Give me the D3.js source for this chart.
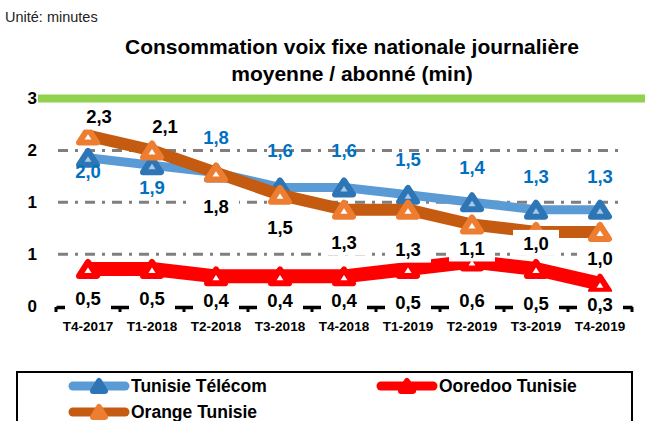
<!DOCTYPE html>
<html>
<head>
<meta charset="utf-8">
<script src="https://cdn.jsdelivr.net/npm/d3@7"></script>
<style>
  html, body { margin: 0; padding: 0; background: #fff; }
  svg { display: block; font-family: "Liberation Sans", Arial, sans-serif; }
</style>
</head>
<body>
<svg id="chart" width="645" height="421"></svg>
<script>
// data
const quarters = ["T4-2017", "T1-2018", "T2-2018", "T3-2018", "T4-2018", "T1-2019", "T2-2019", "T3-2019", "T4-2019"];
const tunisieTelecom = [2.0, 1.9, 1.8, 1.6, 1.6, 1.5, 1.4, 1.3, 1.3];
const orangeTunisie  = [2.3, 2.1, 1.8, 1.5, 1.3, 1.3, 1.1, 1.0, 1.0];
const ooredooTunisie = [0.5, 0.5, 0.4, 0.4, 0.4, 0.5, 0.6, 0.5, 0.3];
const yTicks = [0, 0.7, 1.4, 2.1, 2.8];
const yMax = 2.8;

// label placement (pixel offsets from the point)
const ttLabelDy  = [14, 22, -35, -37, -37, -35, -35, -33, -33];
const orLabelDy  = [-19, -24, 34, 33, 33, 40, 24, 11, 26];
const orLabelDx  = [11, 13, 0, 0, 0, 0, 0, 0, 0];
const ooLabelDy  = [29, 29, 24, 24, 24, 33, 39, 34, 21];

const W = 645, H = 421;
const svg = d3.select("#chart");

const x = d3.scaleBand().domain(quarters).range([56, 632]);
const y = d3.scaleLinear().domain([0, yMax]).range([306, 98.5]);
const cx = q => x(q) + x.bandwidth() / 2;
const fmt = d3.format(".1f");
const lab = v => fmt(v).replace(".", ",");

// titles
svg.append("text")
  .attr("x", 5).attr("y", 22)
  .attr("font-size", 14.5).attr("fill", "#222")
  .text("Unité: minutes");

svg.append("text")
  .attr("x", 352).attr("y", 54)
  .attr("text-anchor", "middle")
  .attr("font-size", 21).attr("font-weight", "bold")
  .text("Consommation voix fixe nationale journalière");

svg.append("text")
  .attr("x", 352).attr("y", 81)
  .attr("text-anchor", "middle")
  .attr("font-size", 21).attr("font-weight", "bold")
  .text("moyenne / abonné (min)");

// gridlines
svg.append("g")
  .selectAll("line")
  .data(yTicks.filter(t => t > 0 && t < yMax))
  .join("line")
  .attr("x1", 58).attr("x2", 625)
  .attr("y1", d => y(d)).attr("y2", d => y(d))
  .attr("stroke", "#7f7f7f")
  .attr("stroke-width", 3)
  .attr("stroke-dasharray", "10,7,3,7");

svg.append("line")
  .attr("x1", 38).attr("x2", W)
  .attr("y1", y(yMax)).attr("y2", y(yMax))
  .attr("stroke", "#92d050")
  .attr("stroke-width", 8);

// y tick labels
svg.append("g")
  .selectAll("text")
  .data(yTicks)
  .join("text")
  .attr("x", 37)
  .attr("y", d => y(d))
  .attr("dy", "0.35em")
  .attr("text-anchor", "end")
  .attr("font-size", 17).attr("font-weight", "bold")
  .text(d => d3.format(".0f")(d));

// x axis
const xAxis = svg.append("g")
  .attr("transform", `translate(0, ${y(0) + 1})`)
  .call(d3.axisBottom(x).tickSize(0).tickPadding(14));
xAxis.select(".domain")
  .attr("stroke", "#000").attr("stroke-width", 3.5);
xAxis.selectAll("text")
  .attr("font-family", "Liberation Sans, Arial, sans-serif")
  .attr("font-size", 13.5).attr("font-weight", "bold").attr("fill", "#000");

svg.append("g")
  .selectAll("line")
  .data(d3.range(quarters.length + 1))
  .join("line")
  .attr("x1", i => 56 + i * x.bandwidth())
  .attr("x2", i => 56 + i * x.bandwidth())
  .attr("y1", y(0) + 1).attr("y2", y(0) + 6)
  .attr("stroke", "#000").attr("stroke-width", 3);

// series
const line = d3.line().x((d, i) => cx(quarters[i])).y(d => y(d));
const tri = (w, h) => `M0,${-h / 2}L${w / 2},${h / 2}L${-w / 2},${h / 2}Z`;

function drawSeries(vals, lineColor, lineWidth, mStroke, mFill) {
  svg.append("path")
    .datum(vals)
    .attr("d", line)
    .attr("fill", "none")
    .attr("stroke", lineColor)
    .attr("stroke-width", lineWidth)
    .attr("stroke-linejoin", "round");

  svg.append("g")
    .selectAll("path")
    .data(vals)
    .join("path")
    .attr("transform", (d, i) => `translate(${cx(quarters[i])}, ${y(d)})`)
    .attr("d", tri(18, 14))
    .attr("fill", mFill)
    .attr("stroke", mStroke)
    .attr("stroke-width", 6)
    .attr("stroke-linejoin", "round");
}

drawSeries(tunisieTelecom, "#5b9bd5", 9, "#2e75b6", "#a9c8e8");
drawSeries(ooredooTunisie, "#ff0000", 14, "#ff0000", "#fff");
drawSeries(orangeTunisie, "#c55a11", 12, "#ed7d31", "#fff");

// data labels
function drawLabels(vals, dys, dxs, color, boxed) {
  const g = svg.append("g");
  vals.forEach((v, i) => {
    const lx = cx(quarters[i]) + (dxs ? dxs[i] : 0);
    const ly = y(v) + dys[i];
    if (boxed) {
      g.append("rect")
        .attr("x", lx - 23).attr("y", ly - 13)
        .attr("width", 46).attr("height", 26)
        .attr("fill", "#fff");
    }
    g.append("text")
      .attr("x", lx).attr("y", ly)
      .attr("dy", "0.36em")
      .attr("text-anchor", "middle")
      .attr("font-size", 18.5).attr("font-weight", "bold")
      .attr("fill", color)
      .text(lab(v));
  });
}

drawLabels(tunisieTelecom, ttLabelDy, null, "#0070c0", false);
drawLabels(ooredooTunisie, ooLabelDy, null, "#000", true);
drawLabels(orangeTunisie, orLabelDy, orLabelDx, "#000", true);

// legend
svg.append("rect")
  .attr("x", 17).attr("y", 372)
  .attr("width", 615).attr("height", 80)
  .attr("fill", "#fff")
  .attr("stroke", "#000").attr("stroke-width", 2);

const legendItems = [
  { name: "Tunisie Télécom", line: "#5b9bd5", mark: "#2e75b6", x: 70, y: 386 },
  { name: "Ooredoo Tunisie", line: "#ff0000", mark: "#ff0000", x: 378, y: 386 },
  { name: "Orange Tunisie",  line: "#c55a11", mark: "#ed7d31", x: 70, y: 412 }
];

const lg = svg.append("g")
  .selectAll("g")
  .data(legendItems)
  .join("g")
  .attr("transform", d => `translate(${d.x}, ${d.y})`);

lg.append("line")
  .attr("x1", 3).attr("x2", 55)
  .attr("stroke", d => d.line)
  .attr("stroke-width", 9)
  .attr("stroke-linecap", "round");

lg.append("path")
  .attr("transform", "translate(29, 0)")
  .attr("d", tri(12, 10))
  .attr("fill", d => d.mark)
  .attr("stroke", d => d.mark)
  .attr("stroke-width", 6)
  .attr("stroke-linejoin", "round");

lg.append("text")
  .attr("x", 61)
  .attr("dy", "0.36em")
  .attr("font-size", 17.5).attr("font-weight", "bold")
  .text(d => d.name);
</script>
</body>
</html>
